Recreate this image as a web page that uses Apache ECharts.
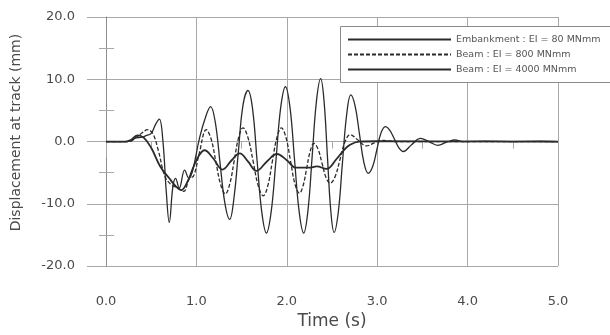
<!DOCTYPE html>
<html>
<head>
<meta charset="utf-8">
<script src="https://cdn.jsdelivr.net/npm/echarts@6/dist/echarts.min.js"></script>
<style>
  html, body { margin: 0; padding: 0; background: #ffffff; }
  #chart { width: 610px; height: 335px; }
</style>
</head>
<body>
<div id="chart"></div>
<script>
// 시간(s) / 변위(mm) 값 - 그림에서 읽은 값
const embankmentData = [
    [0.0, 0], [0.2, 0], [0.28, 0.1], [0.33, 0.6], [0.40, 0.7], [0.45, 1.0],
    [0.50, 1.3], [0.55, 2.8], [0.59, 3.6], [0.63, 0.0], [0.665, -7.7], [0.70, -13.0],
    [0.74, -7.2], [0.77, -5.9], [0.81, -7.5], [0.87, -4.6], [0.917, -5.9], [0.96, -4.6],
    [1.035, 0.6], [1.11, 4.3], [1.157, 5.6],
    [1.21, 3.0], [1.262, -3.5], [1.315, -9.9], [1.368, -12.5],
    [1.42, -8.5], [1.465, -1.5], [1.515, 5.8], [1.57, 8.2],
    [1.62, 5.4], [1.672, -3.2], [1.723, -11.3], [1.774, -14.7],
    [1.827, -11.3], [1.88, -3.0], [1.932, 5.4], [1.985, 8.8],
    [2.036, 5.4], [2.086, -3.0], [2.137, -11.3], [2.187, -14.7],
    [2.234, -11.1], [2.281, -2.3], [2.328, 6.5], [2.375, 10.1],
    [2.412, 6.5], [2.449, -2.3], [2.486, -11.0], [2.523, -14.6],
    [2.569, -11.4], [2.615, -3.5], [2.662, 4.3], [2.708, 7.5],
    [2.756, 5.7], [2.804, 1.2], [2.852, -3.3], [2.90, -5.1],
    [2.95, -4.0], [2.995, -1.4], [3.04, 1.3], [3.09, 2.4],
    [3.14, 1.8], [3.19, 0.4], [3.24, -1.0], [3.29, -1.6],
    [3.38, -0.5], [3.48, 0.5], [3.57, 0.0], [3.67, -0.6], [3.77, -0.1],
    [3.86, 0.25], [3.95, 0.0], [4.2, 0.05], [4.5, 0.0], [4.8, 0.05], [5.0, 0.0]
];

const beam800Data = [
    [0.0, 0], [0.25, 0], [0.32, 0.5], [0.40, 1.4], [0.46, 1.9], [0.52, 1.2],
    [0.58, -1.5], [0.65, -5.5], [0.72, -6.9], [0.80, -7.5], [0.86, -8.0], [0.92, -6.0],
    [0.97, -5.5], [1.03, -2.0], [1.11, 1.9],
    [1.163, 0.4], [1.215, -3.2], [1.268, -6.9], [1.32, -8.4],
    [1.369, -6.8], [1.418, -3.1], [1.466, 0.6], [1.515, 2.2],
    [1.571, 0.6], [1.628, -3.2], [1.684, -7.1], [1.74, -8.7],
    [1.79, -7.1], [1.84, -3.2], [1.89, 0.6], [1.94, 2.2],
    [1.99, 0.7], [2.04, -3.0], [2.09, -6.8], [2.14, -8.3],
    [2.18, -7.1], [2.22, -4.3], [2.26, -1.5], [2.30, -0.3],
    [2.345, -1.2], [2.39, -3.5], [2.435, -5.8], [2.48, -6.7],
    [2.535, -5.6], [2.59, -2.8], [2.645, 0.0], [2.70, 1.1],
    [2.79, 0.2], [2.88, -0.7], [2.97, -0.2], [3.06, 0.2], [3.2, 0.0],
    [5.0, 0.0]
];

const beam4000Data = [
    [0.0, 0], [0.22, 0], [0.28, 0.3], [0.35, 1.0], [0.42, 0.6], [0.50, -1.0],
    [0.60, -4.0], [0.70, -5.9], [0.78, -7.3], [0.83, -7.8], [0.90, -6.5], [0.97, -4.0],
    [1.03, -2.2], [1.09, -1.4], [1.18, -2.6], [1.29, -4.5], [1.39, -3.0], [1.48, -1.9],
    [1.57, -3.2], [1.665, -4.7], [1.78, -3.2], [1.89, -2.0], [2.0, -3.0], [2.1, -4.2],
    [2.25, -4.2], [2.33, -4.0], [2.44, -4.4], [2.55, -2.8], [2.63, -1.4], [2.70, -0.5],
    [2.80, 0.0], [3.0, 0.05], [5.0, 0.0]
];

const seriesNames = [
    'Embankment : EI = 80 MNmm',
    'Beam : EI = 800 MNmm',
    'Beam : EI = 4000 MNmm'
];

const xTitle = 'Time (s)';
const yTitle = 'Displacement at track (mm)';

const textColor = '#4a4a4a';
const gridColor = '#a8a8a8';
const lineColor = '#2b2b2b';
const fontName = 'DejaVu Sans';

const chart = echarts.init(document.getElementById('chart'), null, { renderer: 'canvas' });

const options = {
    backgroundColor: '#ffffff',
    animation: false,
    grid: {
        left: 106,
        right: 52,
        top: 17,
        bottom: 63
    },
    // 범례 상자 (오른쪽 테두리는 그림 밖으로 나감)
    graphic: [
        {
            type: 'rect',
            z: 3,
            shape: { x: 340.5, y: 26.5, width: 300, height: 56 },
            style: { fill: '#ffffff', stroke: '#8a8a8a', lineWidth: 1 }
        }
    ],
    legend: {
        orient: 'vertical',
        left: 340,
        top: 27,
        z: 4,
        padding: [7, 10, 7, 7],
        itemWidth: 103,
        itemHeight: 8,
        itemGap: 4,
        itemStyle: { opacity: 0 },
        data: seriesNames,
        textStyle: {
            color: '#555555',
            fontFamily: fontName,
            fontSize: 9.5,
            lineHeight: 11
        }
    },
    xAxis: {
        type: 'value',
        min: 0,
        max: 5,
        interval: 1,
        name: xTitle,
        nameLocation: 'middle',
        nameGap: 44,
        nameTextStyle: { color: textColor, fontFamily: fontName, fontSize: 17 },
        axisLine: { show: true, lineStyle: { color: gridColor, width: 1 } },
        axisTick: { show: true, length: 16, lineStyle: { color: gridColor } },
        minorTick: { show: true, splitNumber: 2, length: 7, lineStyle: { color: gridColor } },
        splitLine: { show: true, lineStyle: { color: gridColor, width: 1 } },
        axisLabel: {
            margin: 29,
            color: textColor,
            fontFamily: fontName,
            fontSize: 13,
            formatter: v => v.toFixed(1)
        }
    },
    yAxis: [
        {
            type: 'value',
            min: -20,
            max: 20,
            interval: 10,
            name: yTitle,
            nameLocation: 'middle',
            nameGap: 83,
            nameTextStyle: { color: textColor, fontFamily: fontName, fontSize: 14, padding: [0, 0, 0, 18] },
            axisLine: { show: true, onZero: false, lineStyle: { color: '#8e8e8e', width: 1 } },
            axisTick: { show: true, length: 19, lineStyle: { color: gridColor } },
            minorTick: { show: true, splitNumber: 2, length: 7, lineStyle: { color: gridColor } },
            splitLine: { show: true, lineStyle: { color: gridColor, width: 1 } },
            axisLabel: {
                margin: 31,
                color: textColor,
                fontFamily: fontName,
                fontSize: 13,
                formatter: v => v.toFixed(1)
            }
        },
        {
            // 축 안쪽으로 넘어가는 보조 눈금
            type: 'value',
            position: 'left',
            min: -20,
            max: 20,
            interval: 10,
            axisLine: { show: false },
            axisTick: { show: false, inside: true },
            minorTick: { show: true, splitNumber: 2, length: 8, lineStyle: { color: gridColor } },
            splitLine: { show: false },
            axisLabel: { show: false }
        }
    ],
    series: [
        {
            name: seriesNames[0],
            type: 'line',
            data: embankmentData,
            smooth: 0.4,
            symbol: 'none',
            lineStyle: { color: lineColor, width: 1.3, type: 'solid' },
            itemStyle: { color: lineColor }
        },
        {
            name: seriesNames[1],
            type: 'line',
            data: beam800Data,
            smooth: 0.4,
            symbol: 'none',
            lineStyle: { color: lineColor, width: 1.3, type: [4, 2] },
            itemStyle: { color: lineColor }
        },
        {
            name: seriesNames[2],
            type: 'line',
            data: beam4000Data,
            smooth: 0.4,
            symbol: 'none',
            lineStyle: { color: lineColor, width: 1.8, type: 'solid' },
            itemStyle: { color: lineColor }
        }
    ]
};

chart.setOption(options);
</script>
</body>
</html>
